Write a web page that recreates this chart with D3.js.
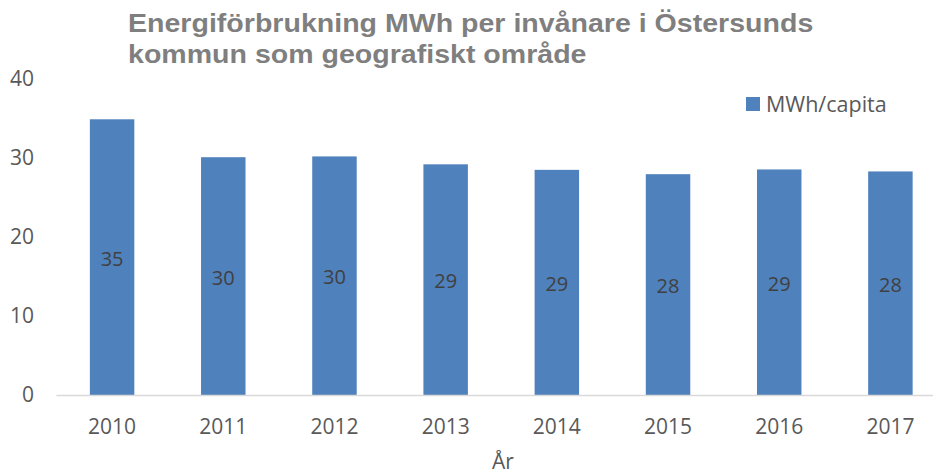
<!DOCTYPE html>
<html><head><meta charset="utf-8">
<script src="https://cdn.jsdelivr.net/npm/d3@7"></script>
<style>body{margin:0;background:#fff}svg{display:block}</style>
</head><body>
<script>
const categories = ["2010","2011","2012","2013","2014","2015","2016","2017"];
const values = [34.9, 30.1, 30.2, 29.2, 28.5, 27.95, 28.55, 28.3];
const yTicks = [0,10,20,30,40];
const titleLines = ["Energiförbrukning MWh per invånare i Östersunds","kommun som geografiskt område"];
const seriesName = "MWh/capita";
const xTitle = "År";

const W=933,H=475;
const svg=d3.select("body").append("svg").attr("width",W).attr("height",H);
const font="'Open Sans', sans-serif";
const x=d3.scaleBand().domain(categories).range([56.5,946]).paddingInner(0.6).paddingOuter(0.3);
const y=d3.scaleLinear().domain([0,40]).range([395,79]);

// title
svg.append("g").attr("transform","translate(128,0) scale(1.12,1)")
  .selectAll("text").data(titleLines).join("text")
  .attr("x",0).attr("y",(d,i)=>32+i*31)
  .attr("font-family","'Liberation Sans', Arial, sans-serif").attr("font-weight","bold")
  .attr("font-size",25.5).attr("fill","#7f7f7f").text(d=>d);

// bars
svg.append("g").selectAll("rect").data(values).join("rect")
  .attr("x",(d,i)=>x(categories[i])).attr("width",x.bandwidth())
  .attr("y",d=>y(d)).attr("height",d=>y(0)-y(d)).attr("fill","#4f81bd");

// data labels
svg.append("g").selectAll("text").data(values).join("text")
  .attr("x",(d,i)=>x(categories[i])+x.bandwidth()/2)
  .attr("y",d=>(y(d)+y(0))/2).attr("dy","0.42em").attr("text-anchor","middle")
  .attr("font-family",font).attr("font-size",20).attr("fill","#404040")
  .text(d=>d3.format(".0f")(d));

// x axis line
svg.append("line").attr("x1",56.5).attr("x2",W).attr("y1",395.5).attr("y2",395.5)
  .attr("stroke","#d9d9d9").attr("stroke-width",1.5);

// y ticks
svg.append("g").selectAll("text").data(yTicks).join("text")
  .attr("x",34).attr("y",d=>y(d)).attr("dy","0.35em").attr("text-anchor","end")
  .attr("font-family",font).attr("font-size",21).attr("fill","#595959").text(d=>d);

// x tick labels
svg.append("g").selectAll("text").data(categories).join("text")
  .attr("x",d=>x(d)+x.bandwidth()/2).attr("y",427).attr("dy","0.35em").attr("text-anchor","middle")
  .attr("font-family",font).attr("font-size",21).attr("fill","#595959").text(d=>d);

// x title
svg.append("text").attr("x",503).attr("y",462).attr("dy","0.35em").attr("text-anchor","middle")
  .attr("font-family",font).attr("font-size",21).attr("fill","#595959").text(xTitle);

// legend
const lg=svg.append("g").attr("transform","translate(746,97)");
lg.append("rect").attr("width",14).attr("height",14).attr("fill","#4f81bd");
lg.append("text").attr("x",20).attr("y",7).attr("dy","0.35em")
  .attr("font-family",font).attr("font-size",21.5).attr("fill","#595959").text(seriesName);
</script>
</body></html>
